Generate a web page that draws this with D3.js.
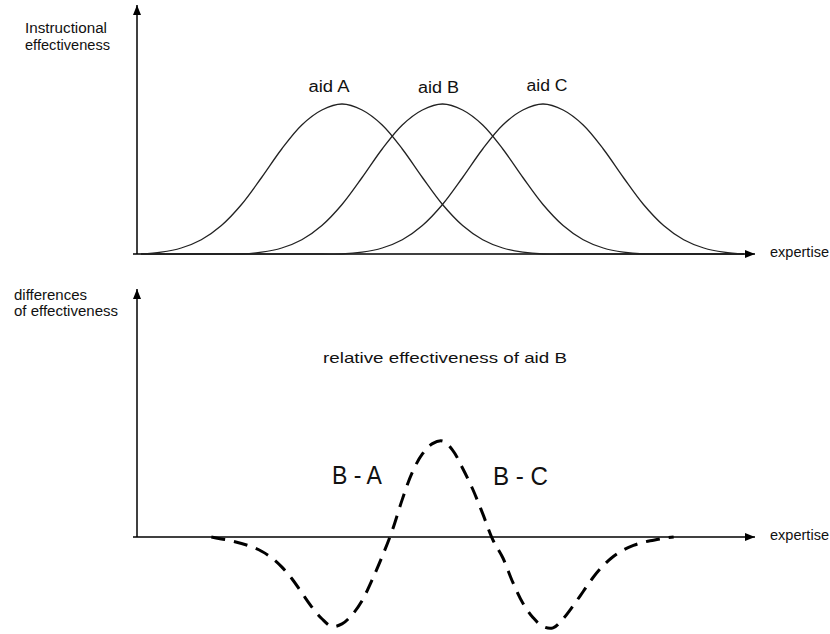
<!DOCTYPE html>
<html>
<head>
<meta charset="utf-8">
<script src="https://cdn.jsdelivr.net/npm/d3@7"></script>
<style>
	body { margin: 0; background: #fff; }
	svg text { font-family: 'Liberation Sans', Arial, sans-serif; fill: #111; }
</style>
</head>
<body>
<script>

// expertise grid shared by the three aids
const expertise = [0, 2, 4, 6, 8, 10, 12, 14, 16, 18, 20, 22, 24, 26, 28, 30,
	32, 34, 36, 38, 40, 42, 44, 46, 48, 50, 52, 54, 56, 58, 60]

// instructional effectiveness of each aid
const aidA = [0, 0.012, 0.04, 0.095, 0.19, 0.33, 0.51, 0.7, 0.86, 0.96, 1, 0.96, 0.86, 0.7, 0.51, 0.33,
	0.19, 0.095, 0.04, 0.012, 0, 0, 0, 0, 0, 0, 0, 0, 0, 0, 0]
const aidB = [0, 0, 0, 0, 0, 0, 0.012, 0.04, 0.095, 0.19, 0.33, 0.51, 0.7, 0.86, 0.96, 1,
	0.96, 0.86, 0.7, 0.51, 0.33, 0.19, 0.095, 0.04, 0.012, 0, 0, 0, 0, 0, 0]
const aidC = [0, 0, 0, 0, 0, 0, 0, 0, 0, 0, 0, 0.012, 0.04, 0.095, 0.19, 0.33,
	0.51, 0.7, 0.86, 0.96, 1, 0.96, 0.86, 0.7, 0.51, 0.33, 0.19, 0.095, 0.04, 0.012, 0]
const aidNames = ['aid A', 'aid B', 'aid C']

// relative effectiveness of aid B (B - A left of the peak, B - C right of it)
const diffExpertise = [7, 8, 9, 10, 11, 12, 13, 14, 15, 16, 17, 18, 19, 20, 21, 22, 23, 24, 25, 26,
	27, 28, 29, 30, 31, 32, 33, 34, 35, 36, 37, 38, 39, 40, 41, 42, 43, 44, 45, 46, 47, 48, 49, 50, 51, 52, 53]
const diffB = [0, -0.015, -0.03, -0.05, -0.075, -0.11, -0.16, -0.23, -0.32, -0.43, -0.54, -0.63, -0.69, -0.67,
	-0.6, -0.49, -0.33, -0.15, 0.05, 0.29, 0.5, 0.64, 0.72, 0.74, 0.67, 0.53, 0.37, 0.18, -0.02, -0.16,
	-0.35, -0.51, -0.62, -0.69, -0.7, -0.63, -0.53, -0.42, -0.31, -0.22, -0.15, -0.1, -0.065, -0.04, -0.025, -0.01, 0]
const diffNames = ['B - A', 'B - C']

const width = 830, height = 634
const axisX = 137, axisEnd = 755

const svg = d3.select('body').append('svg')
	.attr('width', width)
	.attr('height', height)

// arrow head for the axes
svg.append('defs').append('marker')
	.attr('id', 'arrow')
	.attr('markerUnits', 'userSpaceOnUse')
	.attr('markerWidth', 10).attr('markerHeight', 8)
	.attr('refX', 10).attr('refY', 4)
	.attr('orient', 'auto')
	.append('path').attr('d', 'M0,0L10,4L0,8z').attr('fill', '#000')

const x = d3.scaleLinear().domain([0, 60]).range([141, 744])
const yTop = d3.scaleLinear().domain([0, 1]).range([254, 104])
const yBot = d3.scaleLinear().domain([0, 0.74]).range([537, 441])

function axes(base, top) {
	svg.append('line')
		.attr('x1', axisX - 4).attr('y1', base).attr('x2', axisEnd).attr('y2', base)
		.attr('stroke', '#000').attr('stroke-width', 1.5).attr('marker-end', 'url(#arrow)')
	svg.append('line')
		.attr('x1', axisX).attr('y1', base).attr('x2', axisX).attr('y2', top)
		.attr('stroke', '#000').attr('stroke-width', 1.5).attr('marker-end', 'url(#arrow)')
}

function label(str, px, py, size, len, anchor = 'start') {
	return svg.append('text')
		.attr('x', px).attr('y', py)
		.attr('font-size', size)
		.attr('text-anchor', anchor)
		.attr('textLength', len)
		.attr('lengthAdjust', 'spacingAndGlyphs')
		.text(str)
}

//Top panel
axes(yTop(0), 5)

const line = d3.line()
	.x((d, i) => x(expertise[i]))
	.y(d => yTop(d))
	.curve(d3.curveCatmullRom.alpha(0.5))

const labelShift = [-13, -4, 4]
const labelBase = [92, 93, 91];
[aidA, aidB, aidC].forEach((vals, k) => {
	svg.append('path')
		.attr('d', line(vals))
		.attr('fill', 'none')
		.attr('stroke', '#222')
		.attr('stroke-width', 1.3)

	let peak = expertise[d3.maxIndex(vals)]
	label(aidNames[k], x(peak) + labelShift[k], labelBase[k], 16, 41, 'middle')
})

label('Instructional', 25, 33, 14, 82)
label('effectiveness', 25, 50, 14, 85)
label('expertise', 770, 257, 14, 59)

//Bottom panel
axes(yBot(0), 289)

const diffLine = d3.line()
	.x((d, i) => x(diffExpertise[i]))
	.y(d => yBot(d))
	.curve(d3.curveCatmullRom.alpha(0.5))

svg.append('path')
	.attr('d', diffLine(diffB))
	.attr('fill', 'none')
	.attr('stroke', '#000')
	.attr('stroke-width', 3)
	.attr('stroke-dasharray', '14,9')

label('differences', 14, 300, 14, 73)
label('of effectiveness', 14, 316, 14, 104)
label('expertise', 770, 540, 14, 59)
label('relative effectiveness of aid B', 445, 363, 15, 244, 'middle')
label(diffNames[0], 332, 484, 25, 50)
label(diffNames[1], 493, 485, 25, 55)

</script>
</body>
</html>
